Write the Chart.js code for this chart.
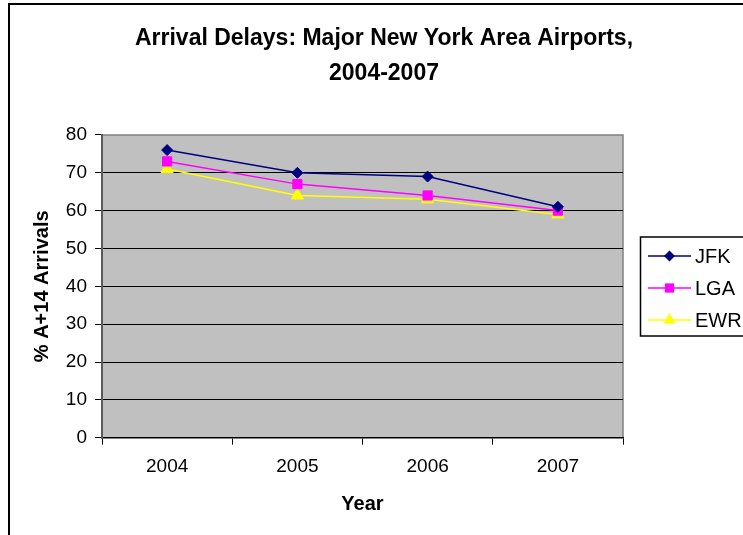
<!DOCTYPE html>
<html>
<head>
<meta charset="utf-8">
<script src="https://cdn.jsdelivr.net/npm/chart.js@4.4.1/dist/chart.umd.min.js"></script>
<style>
  html, body { margin: 0; padding: 0; background: #fff; }
</style>
</head>
<body>
<canvas id="chart" width="743" height="535"></canvas>
<script>
"use strict"

const years = ["2004", "2005", "2006", "2007"]
const jfk = [76, 70, 69, 61]
const lga = [73, 67, 64, 60]
const ewr = [71, 64, 63, 59]
const yMin = 0, yMax = 80, yStep = 10

const FONT = "'Liberation Sans', Arial, sans-serif"

// small marker painter, used by the boxed legend
function marker(ctx, style, r, x, y) {
  ctx.beginPath()
  if (style === "rectRot") {
    ctx.moveTo(x, y - r); ctx.lineTo(x + r, y); ctx.lineTo(x, y + r); ctx.lineTo(x - r, y)
  } else if (style === "rect") {
    const s = r * Math.SQRT1_2
    ctx.rect(x - s, y - s, 2 * s, 2 * s)
  } else {
    ctx.moveTo(x, y - r)
    ctx.lineTo(x + r * Math.sin(Math.PI / 3), y + r / 2)
    ctx.lineTo(x - r * Math.sin(Math.PI / 3), y + r / 2)
  }
  ctx.closePath()
  ctx.fill()
}

const plotBg = {
  id: "plotBg",
  beforeDraw(chart) {
    const {ctx, chartArea: a} = chart
    ctx.save()
    ctx.fillStyle = "#fff"
    ctx.fillRect(0, 0, chart.width, chart.height)
    ctx.fillStyle = "#c0c0c0"
    ctx.fillRect(a.left, a.top, a.width, a.height)
    ctx.strokeStyle = "#808080"; ctx.lineWidth = 1.5
    ctx.beginPath()
    ctx.moveTo(a.left, a.top); ctx.lineTo(a.right, a.top); ctx.lineTo(a.right, a.bottom)
    ctx.stroke()
    // outer frame of the chart object
    ctx.strokeStyle = "#000"; ctx.lineWidth = 2
    ctx.beginPath()
    ctx.moveTo(9, chart.height); ctx.lineTo(9, 4); ctx.lineTo(chart.width, 4)
    ctx.stroke()
    ctx.restore()
  }
}

const boxLegend = {
  id: "boxLegend",
  afterDraw(chart) {
    const ctx = chart.ctx
    ctx.save()
    ctx.fillStyle = "#fff"
    ctx.fillRect(640, 237, 120, 99)
    ctx.strokeStyle = "#000"; ctx.lineWidth = 1.5
    ctx.strokeRect(640.5, 237, 120, 99)
    ctx.font = "20px " + FONT
    ctx.textBaseline = "middle"
    chart.data.datasets.forEach((ds, i) => {
      const y = 256 + i * 32
      ctx.strokeStyle = ds.borderColor; ctx.lineWidth = ds.borderWidth
      ctx.beginPath(); ctx.moveTo(648, y); ctx.lineTo(691, y); ctx.stroke()
      ctx.fillStyle = ds.pointBackgroundColor
      marker(ctx, ds.pointStyle, ds.pointRadius, 669.5, y)
      ctx.fillStyle = "#000"
      ctx.fillText(ds.label, 695, y + 1)
    })
    ctx.restore()
  }
}

const series = [
  {label: "JFK", data: jfk, color: "#000080", style: "rectRot", r: 5.5},
  {label: "LGA", data: lga, color: "#ff00ff", style: "rect", r: 6.5},
  {label: "EWR", data: ewr, color: "#ffff00", style: "triangle", r: 7}
]

new Chart(document.getElementById("chart"), {
  type: "line",
  data: {
    labels: years,
    datasets: series.map(s => ({
      label: s.label,
      data: s.data,
      borderColor: s.color,
      backgroundColor: s.color,
      borderWidth: 1.5,
      pointStyle: s.style,
      pointRadius: s.r,
      pointHoverRadius: s.r,
      pointBackgroundColor: s.color,
      pointBorderColor: s.color,
      pointBorderWidth: 1,
      tension: 0,
      fill: false
    }))
  },
  options: {
    responsive: false,
    animation: false,
    events: [],
    layout: {padding: {left: 25, top: 0, right: 0, bottom: 0}},
    plugins: {
      legend: {display: false},
      tooltip: {enabled: false},
      title: {
        display: true,
        text: ["Arrival Delays: Major New York Area Airports,", "2004-2007"],
        color: "#000",
        font: {family: FONT, size: 23, weight: "bold", lineHeight: 1.52},
        padding: {top: 21.5, bottom: 43.5}
      }
    },
    scales: {
      x: {
        offset: true,
        afterFit: s => { s.height = 97.3 },
        grid: {display: true, drawOnChartArea: false, offset: true, color: "#000", tickLength: 7, lineWidth: 1},
        border: {display: true, color: "#000", width: 1.5},
        ticks: {color: "#000", font: {family: FONT, size: 19}, padding: 11, maxRotation: 0},
        title: {display: true, text: "Year", color: "#000",
                font: {family: FONT, size: 20, weight: "bold"}, padding: {top: 0, bottom: 19}}
      },
      y: {
        min: yMin, max: yMax,
        afterFit: s => { s.width = 77 },
        grid: {
          color: c => c.tick && c.tick.value === yMax ? "rgba(0,0,0,0)" : "#000",
          tickColor: "#000", tickLength: 7, lineWidth: 1
        },
        border: {display: true, color: "#5a5a5a", width: 2},
        ticks: {stepSize: yStep, color: "#000", font: {family: FONT, size: 19}, padding: 8},
        title: {display: true, text: "% A+14 Arrivals", color: "#000",
                font: {family: FONT, size: 20, weight: "bold"}, padding: {top: 5, bottom: 0}}
      },
      yr: {
        position: "right",
        display: true,
        afterFit: s => { s.width = 120 },
        grid: {display: false, drawOnChartArea: false},
        border: {display: false},
        ticks: {display: false}
      }
    }
  },
  plugins: [plotBg, boxLegend]
})
</script>
</body>
</html>
